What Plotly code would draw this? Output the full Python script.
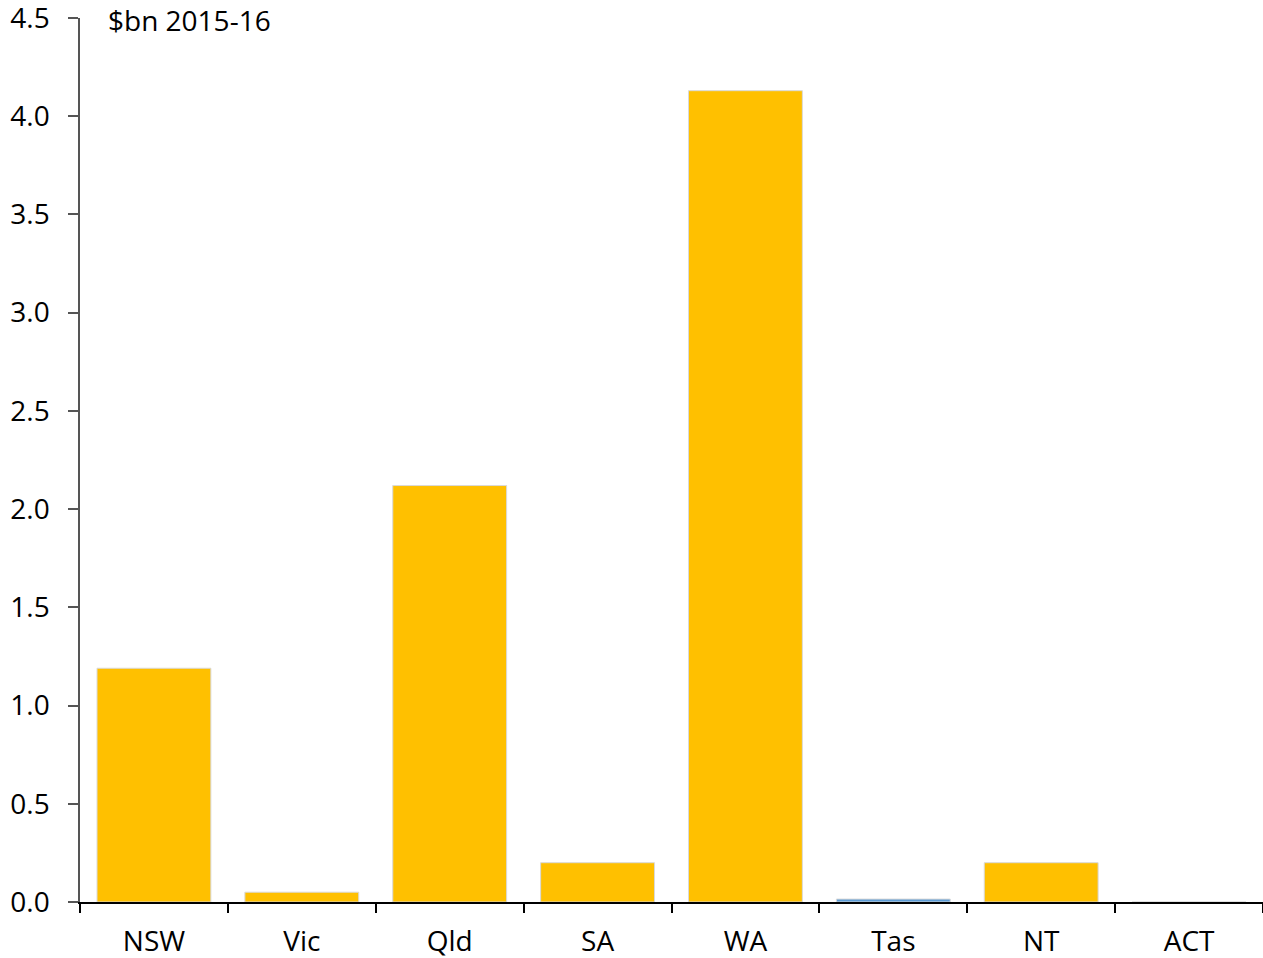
import plotly.graph_objects as go

states = ["NSW", "Vic", "Qld", "SA", "WA", "Tas", "NT", "ACT"]
values = [1.19, 0.05, 2.12, 0.20, 4.13, 0.015, 0.20, 0.0]
bar_colors = ["#FFC000", "#FFC000", "#FFC000", "#FFC000", "#FFC000", "#5B9BD5", "#FFC000", "#FFC000"]
y_ticks = [0.0, 0.5, 1.0, 1.5, 2.0, 2.5, 3.0, 3.5, 4.0, 4.5]

FONT = "Open Sans, sans-serif"

fig = go.Figure()
fig.add_trace(go.Bar(
    x=states, y=values,
    marker=dict(color=bar_colors, line=dict(color="#D9D9D9", width=1)),
))

fig.update_layout(
    width=1263, height=958,
    margin=dict(l=80, r=0, t=18, b=56, autoexpand=False),
    paper_bgcolor="white", plot_bgcolor="white",
    showlegend=False, bargap=0.23,
    font=dict(family=FONT, size=28, color="#000000"),
    annotations=[dict(
        text="$bn 2015-16", xref="paper", yref="paper", x=0.023, y=1.02,
        xanchor="left", yanchor="top", showarrow=False, borderpad=0,
        font=dict(family=FONT, size=28, color="#000000"),
    )],
)
fig.update_xaxes(
    showline=True, linecolor="#000000", linewidth=1.5,
    ticks="outside", tickson="boundaries", ticklen=9, tickcolor="#000000",
    tickwidth=1.5, showgrid=False, ticklabelstandoff=14,
)
fig.update_yaxes(
    range=[0, 4.5], tickvals=y_ticks, tickformat=".1f",
    showline=True, linecolor="#555555", linewidth=1.5,
    ticks="outside", ticklen=10, tickcolor="#555555", tickwidth=1.5,
    showgrid=False, zeroline=False, ticklabelstandoff=13,
    ticklabeloverflow="allow",
)

# drop the default body margin so the figure sits flush in the window
fig.write_html(
    "out.html",
    config={"displayModeBar": False},
    post_script="document.body.style.margin='0';",
)
